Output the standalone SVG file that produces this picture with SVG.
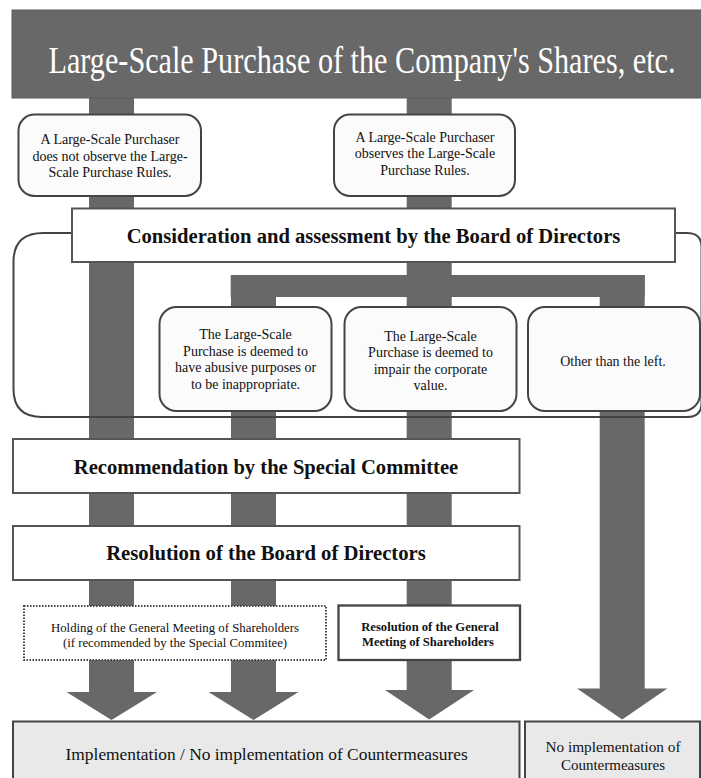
<svg xmlns="http://www.w3.org/2000/svg" width="701" height="778" viewBox="0 0 701 778" font-family="'Liberation Serif', Tinos, 'Times New Roman', 'DejaVu Serif', serif">
<style>
text{font-family:"Liberation Serif",Tinos,"Times New Roman","DejaVu Serif",serif;fill:#111;text-anchor:middle}
.b{font-weight:bold}
.s{font-size:14px}
.bar{fill:#686868}
.rbox{fill:#fbfbfb;stroke:#444;stroke-width:2}
.sq{fill:#fff;stroke:#555;stroke-width:2}
.out{fill:#e9e9e9;stroke:#444;stroke-width:2}
</style>
<rect width="701" height="778" fill="#fff"/>
<g id="connectors">
<path class="bar" d="M89,97 H134 V692 H157 L111.5,720 L66.5,692 H89 Z"/>
<path class="bar" d="M406.7,97 H451.7 V690 H474 L429.2,719.5 L385,690 H406.7 Z"/>
<rect class="bar" x="230.7" y="275" width="414" height="22"/>
<path class="bar" d="M231,275 H276 V692 H298.5 L253.5,720 L208.5,692 H231 Z"/>
<path class="bar" d="M599.7,275 H644.7 V688.5 H667.3 L622.2,719.5 L577,688.5 H599.7 Z"/>
</g>
<g id="header">
<rect x="12" y="10" width="690" height="88" fill="#686868" stroke="#5a5a5a" stroke-width="1"/>
<text transform="translate(362,72.5) scale(0.795,1)" x="0" y="0" font-size="38" style="fill:#fff">Large-Scale Purchase of the Company's Shares, etc.</text>
</g>
<g id="assessment-area">
<path d="M72,233 H43 Q13.5,233 13.5,262 V389 Q13.5,417 42,417 H687 Q701.5,417 701.5,403 V247 Q701.5,233 687,233 H675" fill="none" stroke="#444" stroke-width="2"/>
</g>
<g id="no-observe">
<rect class="rbox" x="18.5" y="114.5" width="182.5" height="81.5" rx="16"/>
<text class="s" x="110" y="144">A Large-Scale Purchaser</text>
<text class="s" x="110" y="160.7">does not observe the Large-</text>
<text class="s" x="110" y="177.3">Scale Purchase Rules.</text>
</g>
<g id="observe">
<rect class="rbox" x="334" y="114.5" width="181" height="81.5" rx="16"/>
<text class="s" x="425" y="141.7">A Large-Scale Purchaser</text>
<text class="s" x="425" y="158.3">observes the Large-Scale</text>
<text class="s" x="425" y="175">Purchase Rules.</text>
</g>
<g id="consideration">
<rect class="sq" x="72" y="208.5" width="603" height="53.5"/>
<text class="b" transform="translate(373.5,243) scale(0.95,1)" x="0" y="0" font-size="21.7">Consideration and assessment by the Board of Directors</text>
</g>
<g id="abusive">
<rect class="rbox" x="159.5" y="307" width="172" height="104" rx="17"/>
<text class="s" x="245.5" y="339">The Large-Scale</text>
<text class="s" x="245.5" y="355.5">Purchase is deemed to</text>
<text class="s" x="245.5" y="372">have abusive purposes or</text>
<text class="s" x="245.5" y="388.5">to be inappropriate.</text>
</g>
<g id="impair">
<rect class="rbox" x="344.5" y="307" width="172" height="104" rx="17"/>
<text class="s" x="430.5" y="340.5">The Large-Scale</text>
<text class="s" x="430.5" y="357">Purchase is deemed to</text>
<text class="s" x="430.5" y="373.5">impair the corporate</text>
<text class="s" x="430.5" y="390">value.</text>
</g>
<g id="other">
<rect class="rbox" x="528" y="307" width="172" height="104" rx="17"/>
<text class="s" x="613" y="366">Other than the left.</text>
</g>
<g id="recommendation">
<rect class="sq" x="13" y="439" width="506.5" height="54"/>
<text class="b" x="266" y="474" font-size="20.6">Recommendation by the Special Committee</text>
</g>
<g id="resolution-board">
<rect class="sq" x="13" y="526" width="506.5" height="54"/>
<text class="b" x="266" y="560" font-size="20.7">Resolution of the Board of Directors</text>
</g>
<g id="holding-gm">
<rect x="24" y="606" width="302" height="54" fill="#fff" stroke="#444" stroke-width="2" stroke-dasharray="1.5 1.5"/>
<text x="175" y="631.7" font-size="12.8">Holding of the General Meeting of Shareholders</text>
<text x="175" y="646.7" font-size="12.8">(if recommended by the Special Commitee)</text>
</g>
<g id="resolution-gm">
<rect x="338.5" y="605.5" width="181.5" height="54.5" fill="#fff" stroke="#444" stroke-width="2.3"/>
<text class="b" x="430" y="630.7" font-size="12.6">Resolution of the General</text>
<text class="b" x="428" y="646" font-size="12.6">Meeting of Shareholders</text>
</g>
<g id="implementation">
<rect class="out" x="13" y="721.5" width="506.5" height="70"/>
<text x="266.7" y="760" font-size="17.4">Implementation / No implementation of Countermeasures</text>
</g>
<g id="no-implementation">
<rect class="out" x="525" y="721.5" width="175" height="70"/>
<text x="613" y="751.7" font-size="15.3">No implementation of</text>
<text x="613" y="770" font-size="15">Countermeasures</text>
</g>
</svg>
